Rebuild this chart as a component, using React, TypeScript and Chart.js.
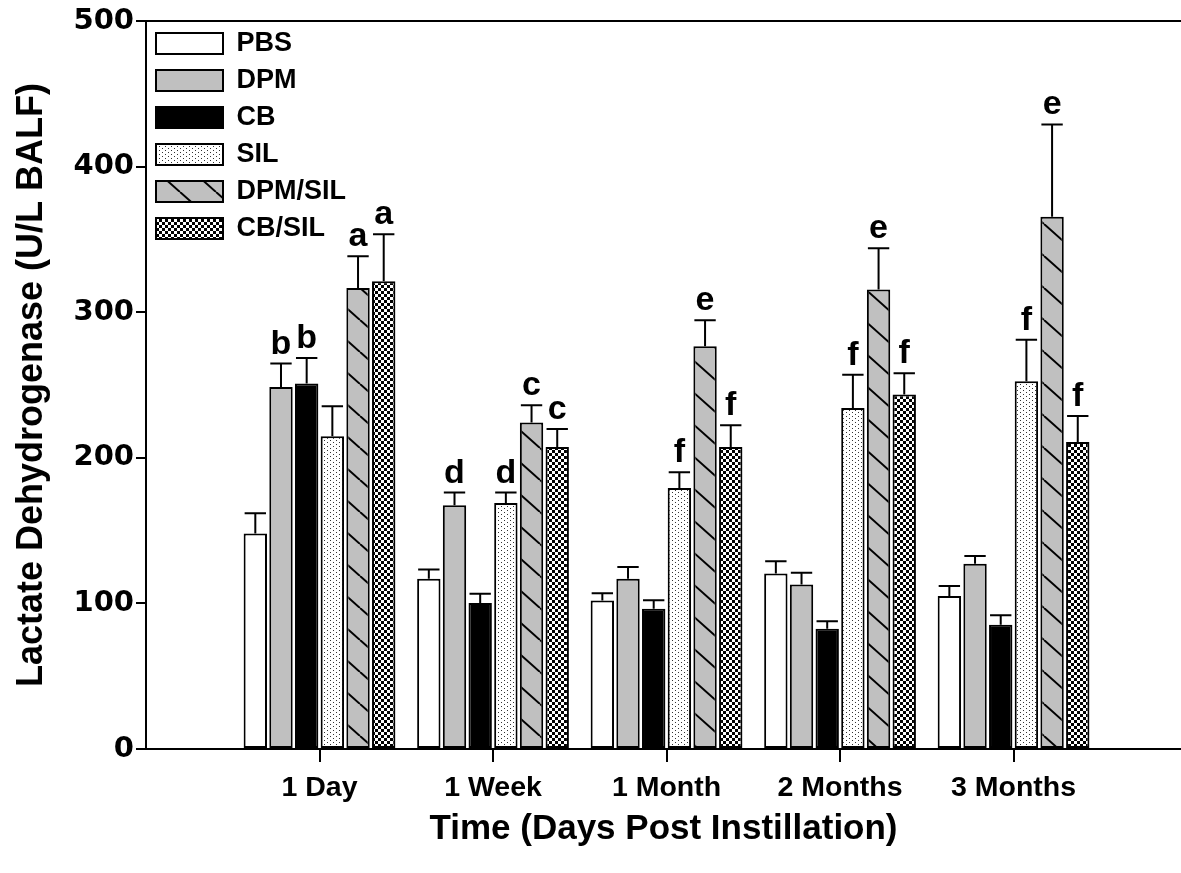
import React, { useEffect, useRef } from 'react';
import { Chart, registerables } from 'chart.js';

Chart.register(...registerables);

const categories = ['1 Day', '1 Week', '1 Month', '2 Months', '3 Months'];
const seriesNames = ['PBS', 'DPM', 'CB', 'SIL', 'DPM/SIL', 'CB/SIL'];

const pbsValues = [148, 117, 102, 120.5, 105];
const dpmValues = [248.7, 167.4, 117, 113, 127.3];
const cbValues = [251, 100.2, 96.4, 82.6, 85.4];
const silValues = [214.8, 168.9, 179.2, 234.2, 252.6];
const dpmSilValues = [316.7, 224.2, 276.6, 315.6, 365.5];
const cbSilValues = [321.3, 207.4, 207.4, 243.4, 210.9];

const pbsErrors = [14, 6.2, 5, 8.5, 7];
const dpmErrors = [16, 8.7, 8, 8, 5.2];
const cbErrors = [17.6, 6.5, 5.7, 5.2, 6.4];
const silErrors = [20.6, 7.2, 10.8, 22.8, 28.4];
const dpmSilErrors = [21.8, 11.9, 17.9, 28.4, 63.5];
const cbSilErrors = [32.3, 12.4, 14.9, 14.6, 17.8];

const pbsLetters = ['', '', '', '', ''];
const dpmLetters = ['b', 'd', '', '', ''];
const cbLetters = ['b', '', '', '', ''];
const silLetters = ['', 'd', 'f', 'f', 'f'];
const dpmSilLetters = ['a', 'c', 'e', 'e', 'e'];
const cbSilLetters = ['a', 'c', 'f', 'f', 'f'];

const yTicks = [0, 100, 200, 300, 400, 500];

const allValues = [pbsValues, dpmValues, cbValues, silValues, dpmSilValues, cbSilValues];
const allErrors = [pbsErrors, dpmErrors, cbErrors, silErrors, dpmSilErrors, cbSilErrors];
const allLetters = [pbsLetters, dpmLetters, cbLetters, silLetters, dpmSilLetters, cbSilLetters];

const SANS = "'Liberation Sans', Arial, sans-serif";

function makePattern(w: number, h: number, draw: (ctx: CanvasRenderingContext2D) => void) {
  const c = document.createElement('canvas');
  c.width = w;
  c.height = h;
  const ctx = c.getContext('2d') as CanvasRenderingContext2D;
  draw(ctx);
  return ctx.createPattern(c, 'repeat') as CanvasPattern;
}

function buildFills() {
  const dots = makePattern(6, 4, (ctx) => {
    ctx.fillStyle = '#ffffff';
    ctx.fillRect(0, 0, 6, 4);
    ctx.fillStyle = '#333333';
    ctx.fillRect(0, 0, 1, 1);
    ctx.fillRect(3, 2, 1, 1);
  });
  const hatch = makePattern(36, 32, (ctx) => {
    ctx.fillStyle = '#c0c0c0';
    ctx.fillRect(0, 0, 36, 32);
    ctx.strokeStyle = '#000000';
    ctx.lineWidth = 2;
    for (const x0 of [-36, 0, 36]) {
      ctx.beginPath();
      ctx.moveTo(x0, 0);
      ctx.lineTo(x0 + 36, 32);
      ctx.stroke();
    }
  });
  const checker = makePattern(6, 6, (ctx) => {
    ctx.fillStyle = '#ffffff';
    ctx.fillRect(0, 0, 6, 6);
    ctx.fillStyle = '#000000';
    ctx.fillRect(0, 0, 3, 3);
    ctx.fillRect(3, 3, 3, 3);
  });
  return ['#ffffff', '#c0c0c0', '#000000', dots, hatch, checker];
}

const errorBarsPlugin = {
  id: 'errorBarsAndLetters',
  afterDatasetsDraw(chart: any) {
    const ctx = chart.ctx;
    const yScale = chart.scales.y;
    ctx.save();
    chart.data.datasets.forEach((ds: any, di: number) => {
      const meta = chart.getDatasetMeta(di);
      meta.data.forEach((bar: any, i: number) => {
        const v = allValues[di][i];
        const e = allErrors[di][i];
        const capY = yScale.getPixelForValue(v + e);
        const w = bar.width - 2;
        ctx.strokeStyle = '#000';
        ctx.lineWidth = 2;
        ctx.beginPath();
        ctx.moveTo(bar.x, bar.y);
        ctx.lineTo(bar.x, capY);
        ctx.moveTo(bar.x - w / 2, capY);
        ctx.lineTo(bar.x + w / 2, capY);
        ctx.stroke();
        const letter = allLetters[di][i];
        if (letter) {
          ctx.fillStyle = '#000';
          ctx.font = `bold 34px ${SANS}`;
          ctx.textAlign = 'center';
          ctx.textBaseline = 'alphabetic';
          ctx.fillText(letter, bar.x, capY - 10);
        }
      });
    });
    ctx.restore();
  },
};

const topBorderPlugin = {
  id: 'topBorder',
  afterDraw(chart: any) {
    const { ctx, chartArea } = chart;
    ctx.save();
    ctx.strokeStyle = '#000';
    ctx.lineWidth = 2;
    ctx.beginPath();
    ctx.moveTo(chartArea.left, chartArea.top);
    ctx.lineTo(chartArea.right, chartArea.top);
    ctx.stroke();
    ctx.restore();
  },
};

export default function App() {
  const ref = useRef<HTMLCanvasElement | null>(null);

  useEffect(() => {
    document.body.style.margin = '0';
    document.body.style.overflow = 'hidden';
    if (!ref.current) return;
    const fills = buildFills();
    const chart = new Chart(ref.current, {
      type: 'bar',
      data: {
        datasets: seriesNames.map((name, si) => ({
          label: name,
          data: allValues[si].map((v, i) => ({ x: i + 1, y: v })),
          backgroundColor: fills[si] as any,
          borderColor: '#000000',
          borderWidth: 2,
          borderSkipped: false,
          categoryPercentage: 0.888,
          barPercentage: 0.91,
        })),
      },
      options: {
        animation: false,
        responsive: false,
        devicePixelRatio: 1,
        layout: { padding: { top: 21, left: 0, right: 0, bottom: 0 } },
        font: { family: SANS } as any,
        plugins: {
          legend: {
            position: 'chartArea' as any,
            align: 'start',
            title: { display: true, text: '', font: { size: 10 }, padding: { top: 8, bottom: 0 } },
            labels: {
              boxWidth: 67,
              boxHeight: 21,
              padding: 10,
              color: '#000',
              font: { family: SANS, weight: 'bold', size: 27 },
            },
          },
          tooltip: { enabled: false },
        },
        scales: {
          x: {
            type: 'linear',
            min: 0,
            max: 5.965,
            offset: false,
            afterBuildTicks: (scale: any) => {
              scale.ticks = categories.map((_, i) => ({ value: i + 1 }));
            },
            afterFit: (scale: any) => {
              scale.height = 124;
            },
            ticks: {
              autoSkip: false,
              maxRotation: 0,
              padding: 9,
              color: '#000',
              font: { family: SANS, weight: 'bold', size: 28.5 },
              callback: (v: any) => categories[Math.round(Number(v)) - 1] ?? '',
            },
            grid: { offset: false, drawOnChartArea: false, drawTicks: true, tickLength: 13, color: '#000', lineWidth: 2 },
            border: { display: true, color: '#000', width: 2 },
            title: {
              display: true,
              text: 'Time (Days Post Instillation)',
              color: '#000',
              font: { family: SANS, weight: 'bold', size: 35 },
              padding: { top: 0, bottom: 23 },
            },
          },
          y: {
            min: 0,
            max: 500,
            afterBuildTicks: (scale: any) => {
              scale.ticks = yTicks.map((v) => ({ value: v }));
            },
            afterFit: (scale: any) => {
              scale.width = 146;
            },
            ticks: {
              padding: 2,
              color: '#000',
              font: { family: "'DejaVu Sans', sans-serif", weight: 'bold', size: 29 },
            },
            grid: { drawOnChartArea: false, drawTicks: true, tickLength: 10, color: '#000', lineWidth: 2 },
            border: { display: true, color: '#000', width: 2 },
            title: {
              display: true,
              text: 'Lactate Dehydrogenase (U/L BALF)',
              color: '#000',
              font: { family: SANS, weight: 'bold', size: 36 },
              padding: { top: 10, bottom: 0 },
            },
          },
        },
      },
      plugins: [errorBarsPlugin, topBorderPlugin],
    });
    return () => chart.destroy();
  }, []);

  return (
    <div style={{ width: 1181, height: 873 }}>
      <canvas ref={ref} width={1181} height={873} />
    </div>
  );
}
